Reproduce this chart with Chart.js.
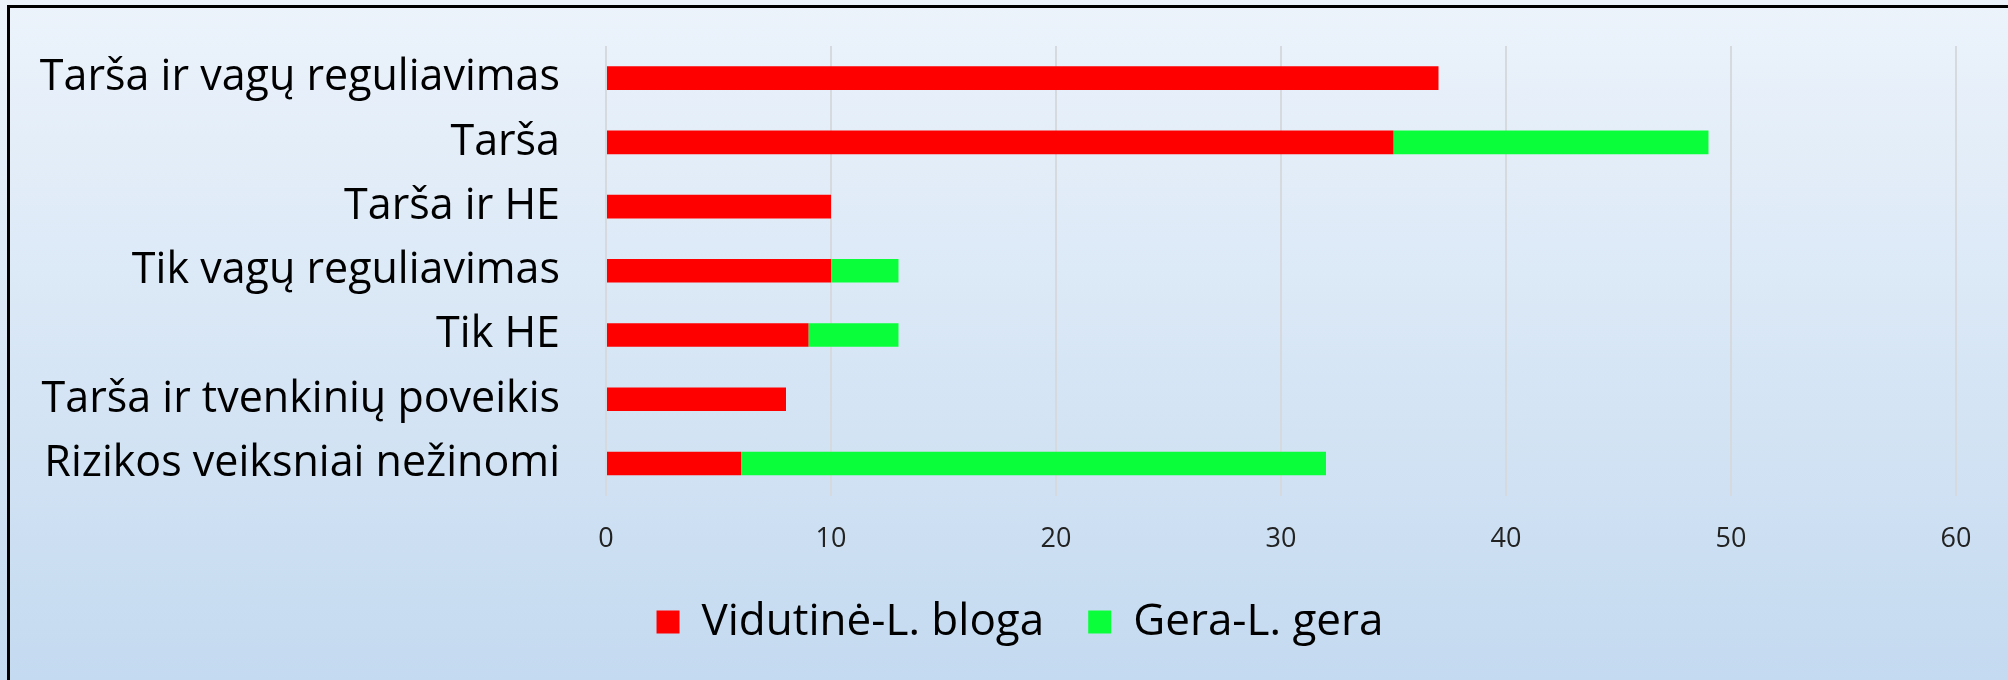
<!DOCTYPE html>
<html>
<head>
<meta charset="utf-8">
<script src="https://cdn.jsdelivr.net/npm/chart.js@4/dist/chart.umd.min.js"></script>
<style>
    html, body { margin: 0; padding: 0; }
    body {
        width: 2008px;
        height: 680px;
        overflow: hidden;
        background: linear-gradient(to bottom, #ecf3fb 0%, #c4daf0 100%);
        position: relative;
    }
    #frame {
        position: absolute;
        left: 7px;
        top: 5px;
        right: 0;
        bottom: 0;
        border-top: 3px solid #000;
        border-left: 3px solid #000;
    }
    #wrap { position: absolute; left: 0; top: 0; width: 2008px; height: 680px; }
</style>
</head>
<body>
<div id="frame"></div>
<div id="wrap"><canvas id="myChart"></canvas></div>
<script>
var categories = [
    "Tarša ir vagų reguliavimas",
    "Tarša",
    "Tarša ir HE",
    "Tik vagų reguliavimas",
    "Tik HE",
    "Tarša ir tvenkinių poveikis",
    "Rizikos veiksniai nežinomi"
];

var vidutineBloga = [37, 35, 10, 10, 9, 8, 6];
var geraGera      = [0, 14, 0, 3, 4, 0, 26];

var seriesNames = ["Vidutinė-L. bloga", "Gera-L. gera"];
var xTicks = [0, 10, 20, 30, 40, 50, 60];

const el = document.getElementById('myChart');

// legend sits a bit right of the canvas centre in the original
const legendShift = {
    id: 'legendShift',
    afterLayout: function (chart) {
        chart.legend.left += 42;
        chart.legend.right += 42;
    }
};

const data = {
    labels: categories,
    datasets: [
        {
            label: seriesNames[0],
            data: vidutineBloga,
            backgroundColor: 'rgb(255, 0, 0)',
            barPercentage: 0.46,
            categoryPercentage: 0.8
        },
        {
            label: seriesNames[1],
            data: geraGera,
            backgroundColor: 'rgb(10, 255, 58)',
            barPercentage: 0.46,
            categoryPercentage: 0.8
        }
    ]
};

const config = {
    type: 'bar',
    data: data,
    plugins: [legendShift],
    options: {
        indexAxis: 'y',
        responsive: true,
        maintainAspectRatio: false,
        animation: false,
        layout: {
            padding: { left: 0, right: 52, top: 46, bottom: 26 }
        },
        plugins: {
            tooltip: { enabled: false },
            legend: {
                position: 'bottom',
                labels: {
                    boxWidth: 23,
                    boxHeight: 23,
                    padding: 44,
                    color: '#000',
                    font: { family: "'Open Sans'", size: 44 }
                }
            }
        },
        scales: {
            x: {
                stacked: true,
                min: xTicks[0],
                max: xTicks[xTicks.length - 1],
                border: { display: false },
                grid: {
                    color: '#d6d9dd',
                    lineWidth: 2,
                    drawTicks: true,
                    tickLength: 28,
                    tickColor: 'rgba(0,0,0,0)'
                },
                ticks: {
                    stepSize: 10,
                    padding: 0,
                    color: '#222',
                    font: { family: "'Open Sans'", size: 27 }
                }
            },
            y: {
                stacked: true,
                border: { display: false },
                grid: { display: false, drawTicks: true, tickLength: 30 },
                afterFit: function (scale) { scale.width = 606; },
                ticks: {
                    padding: 16,
                    color: '#000',
                    font: { family: "'Open Sans'", size: 43 }
                }
            }
        }
    }
};

new Chart(el, config);
</script>
</body>
</html>
